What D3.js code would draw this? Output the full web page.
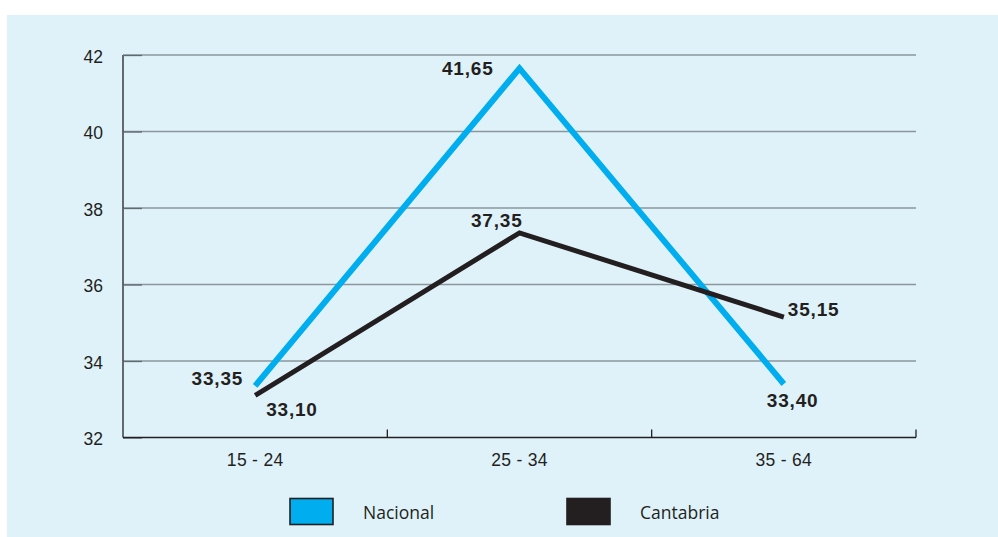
<!DOCTYPE html>
<html>
<head>
<meta charset="utf-8">
<script src="https://cdn.jsdelivr.net/npm/d3@7"></script>
<style>
  html, body { margin: 0; padding: 0; background: #ffffff; }
  svg { display: block; }
</style>
</head>
<body>
<svg id="chart" width="998" height="537"></svg>
<script>
// Age groups and average values per series
const categories = ["15 - 24", "25 - 34", "35 - 64"];
const nacional = [33.35, 41.65, 33.40];
const cantabria = [33.10, 37.35, 35.15];
const yTicks = [32, 34, 36, 38, 40, 42];
const seriesNames = ["Nacional", "Cantabria"];

const fmt = v => d3.format(".2f")(v).replace(".", ",");

const svg = d3.select("#chart");
const W = 998, H = 537;
const m = { left: 123, right: 916, top: 55, bottom: 437.5 };

const BLUE = "#00adef";
const DARK = "#231f20";

// panel background
svg.append("rect")
  .attr("x", 7).attr("y", 15)
  .attr("width", W - 7).attr("height", H - 15)
  .attr("fill", "#dff2fa");

const x = d3.scaleBand().domain(categories).range([m.left, m.right]);
const y = d3.scaleLinear().domain([32, 42]).range([m.bottom, m.top]);
const cx = c => x(c) + x.bandwidth() / 2;

// horizontal gridlines
const grid = svg.append("g");
grid.selectAll("line.grid")
  .data(yTicks.filter(t => t > 32))
  .join("line")
  .attr("class", "grid")
  .attr("x1", m.left).attr("x2", m.right)
  .attr("y1", d => y(d)).attr("y2", d => y(d))
  .attr("stroke", "#8a969c").attr("stroke-width", 1.3);

// y axis with inward ticks
const yAxis = svg.append("g")
  .attr("transform", `translate(${m.left},0)`)
  .call(d3.axisRight(y).tickValues(yTicks).tickSize(19).tickFormat(d => d));
yAxis.select(".domain").attr("stroke", DARK).attr("stroke-width", 1.3)
  .attr("d", `M0,${m.top}V${m.bottom}`);
yAxis.selectAll(".tick line").attr("stroke", "#5f6a70").attr("stroke-width", 1.3);
yAxis.selectAll(".tick text")
  .attr("x", -20).attr("dy", "0.42em")
  .attr("text-anchor", "end")
  .attr("fill", DARK)
  .style("font-family", "'Liberation Sans', Arial, sans-serif")
  .style("font-size", "17.5px");

// x axis: baseline with upward ticks at band boundaries
const xAxis = svg.append("g");
xAxis.append("line")
  .attr("x1", m.left).attr("x2", m.right)
  .attr("y1", m.bottom).attr("y2", m.bottom)
  .attr("stroke", DARK).attr("stroke-width", 1.3);
xAxis.selectAll("line.xt")
  .data(categories)
  .join("line")
  .attr("class", "xt")
  .attr("x1", d => x(d) + x.bandwidth()).attr("x2", d => x(d) + x.bandwidth())
  .attr("y1", m.bottom).attr("y2", m.bottom - 8)
  .attr("stroke", DARK).attr("stroke-width", 1.3);
xAxis.selectAll("text")
  .data(categories)
  .join("text")
  .attr("x", d => cx(d)).attr("y", 466)
  .attr("text-anchor", "middle")
  .attr("fill", DARK)
  .style("font-family", "'Liberation Sans', Arial, sans-serif")
  .style("font-size", "17.5px")
  .style("letter-spacing", "0.3px")
  .text(d => d);

// series lines
const line = d3.line().x((d, i) => cx(categories[i])).y(d => y(d));
svg.append("path").datum(nacional)
  .attr("d", line).attr("fill", "none")
  .attr("stroke", BLUE).attr("stroke-width", 6)
  .attr("stroke-linejoin", "miter").attr("stroke-linecap", "butt");
svg.append("path").datum(cantabria)
  .attr("d", line).attr("fill", "none")
  .attr("stroke", DARK).attr("stroke-width", 5)
  .attr("stroke-linejoin", "miter").attr("stroke-linecap", "butt");

// value labels: placement offsets relative to each point
const labelPlacement = {
  Nacional: [
    { dx: -12, dy: -1, anchor: "end" },
    { dx: -26, dy: 7, anchor: "end" },
    { dx: -17, dy: 23, anchor: "start" }
  ],
  Cantabria: [
    { dx: 11, dy: 21, anchor: "start" },
    { dx: 3, dy: -6, anchor: "end" },
    { dx: 4, dy: -1, anchor: "start" }
  ]
};
const labelGroup = svg.append("g")
  .style("font-family", "'Liberation Sans', Arial, sans-serif")
  .style("font-size", "19px")
  .style("font-weight", "bold")
  .style("letter-spacing", "0.8px")
  .attr("fill", DARK);
[["Nacional", nacional], ["Cantabria", cantabria]].forEach(([name, vals]) => {
  labelGroup.selectAll(null)
    .data(vals)
    .join("text")
    .attr("x", (d, i) => cx(categories[i]) + labelPlacement[name][i].dx)
    .attr("y", (d, i) => y(d) + labelPlacement[name][i].dy)
    .attr("text-anchor", (d, i) => labelPlacement[name][i].anchor)
    .text(d => fmt(d));
});

// legend
const legendColors = [BLUE, DARK];
const legendX = [290, 567];
const legend = svg.append("g");
seriesNames.forEach((name, i) => {
  legend.append("rect")
    .attr("x", legendX[i]).attr("y", 498.5)
    .attr("width", 43).attr("height", 26)
    .attr("fill", legendColors[i])
    .attr("stroke", DARK).attr("stroke-width", 1.6);
  legend.append("text")
    .attr("x", legendX[i] + 73).attr("y", 519)
    .attr("fill", DARK)
    .style("font-family", "'Open Sans', 'DejaVu Sans', sans-serif")
    .style("font-size", "17.5px")
    .text(name);
});
</script>
</body>
</html>
